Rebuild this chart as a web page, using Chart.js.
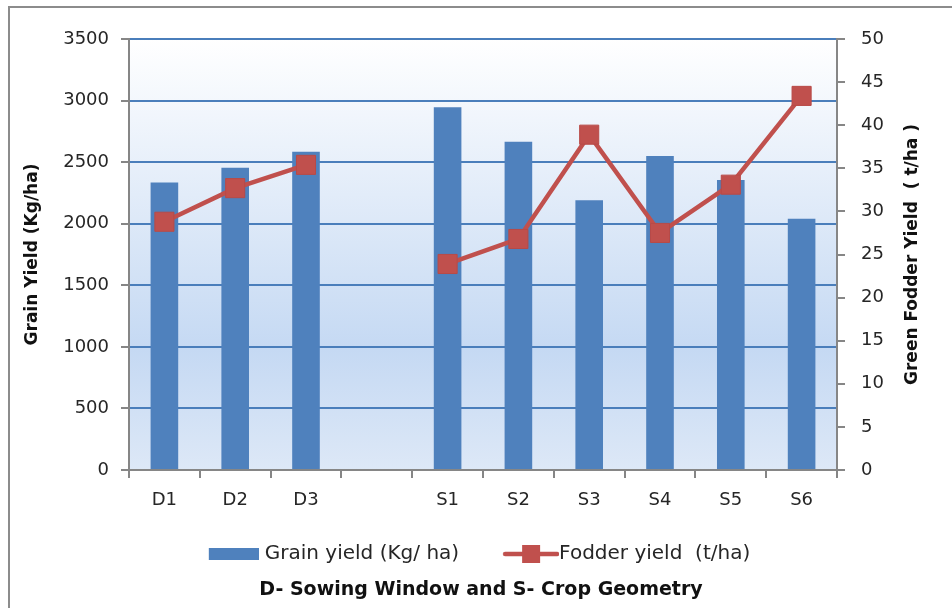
<!DOCTYPE html>
<html lang="en">
<head>
    <meta charset="UTF-8"/>
    <title>Grain and fodder yield</title>
    <script src="https://cdn.jsdelivr.net/npm/chart.js@4.4.1/dist/chart.umd.min.js"></script>
    <style>
        html, body { margin: 0; padding: 0; background: #fff; overflow: hidden; }
        #wrap { position: relative; width: 952px; height: 608px; }
        #frame {
            position: absolute; left: 8px; top: 6px; width: 1000px; height: 700px;
            border-left: 2px solid #8c8c8c; border-top: 2px solid #8c8c8c;
        }
        #yieldChart { position: absolute; left: 0; top: 0; }
    </style>
</head>
<body>
<div id="wrap">
    <div id="frame"></div>
    <canvas id="yieldChart" width="952" height="608"></canvas>
</div>
<script>
    // categories (empty slot separates D and S groups)
    const categories = ['D1', 'D2', 'D3', '', 'S1', 'S2', 'S3', 'S4', 'S5', 'S6'];
    // grain yield (Kg/ha), left axis
    const grainYield = [2335, 2455, 2585, null, 2945, 2665, 2190, 2550, 2355, 2040];
    // green fodder yield (t/ha), right axis
    const fodderYield = [28.8, 32.7, 35.4, null, 23.9, 26.8, 38.9, 27.5, 33.1, 43.4];

    const grainLabel = 'Grain yield (Kg/ ha)';
    const fodderLabel = 'Fodder yield  (t/ha)';
    const leftTitle = 'Grain Yield (Kg/ha)';
    const rightTitle = 'Green Fodder Yield  ( t/ha )';
    const xTitle = 'D- Sowing Window and S- Crop Geometry';

    const BLUE = '#4f81bd';
    const RED = '#c0504d';
    const GRID = '#4a7ebb';
    const AXIS = '#868686';
    const FONT = "'DejaVu Sans', sans-serif";

    // legend symbols (small canvases, symbol pushed to the right of the box)
    function makeSymbol(w, h, draw) {
        const c = document.createElement('canvas');
        c.width = w;
        c.height = h;
        draw(c.getContext('2d'));
        return c;
    }
    const barSymbol = makeSymbol(85, 12, (g) => {
        g.fillStyle = BLUE;
        g.fillRect(35, 0, 50, 12);
    });
    const lineSymbol = makeSymbol(97, 20, (g) => {
        g.strokeStyle = RED;
        g.lineWidth = 4.5;
        g.lineCap = 'round';
        g.beginPath();
        g.moveTo(43, 10);
        g.lineTo(95, 10);
        g.stroke();
        g.fillStyle = RED;
        g.fillRect(60, 1, 18, 18);
    });

    // plot area gradient
    const plotBackground = {
        id: 'plotBackground',
        beforeDraw(chart) {
            const {ctx, chartArea: a} = chart;
            const grad = ctx.createLinearGradient(0, a.top, 0, a.bottom);
            grad.addColorStop(0, '#ffffff');
            grad.addColorStop(0.72, '#c5d9f3');
            grad.addColorStop(1, '#dde8f7');
            ctx.save();
            ctx.fillStyle = grad;
            ctx.fillRect(a.left, a.top, a.right - a.left, a.bottom - a.top);
            ctx.restore();
        }
    };

    // right axis title (bottom to top) and x axis title under the legend
    const extraTitles = {
        id: 'extraTitles',
        afterDraw(chart) {
            const {ctx, chartArea: a} = chart;
            ctx.save();
            ctx.fillStyle = '#111';
            ctx.textAlign = 'center';
            ctx.textBaseline = 'middle';
            ctx.font = 'bold 19px ' + FONT;
            ctx.fillText(xTitle, 481, 590);
            ctx.translate(913, (a.top + a.bottom) / 2);
            ctx.rotate(-Math.PI / 2);
            ctx.font = 'bold 17px ' + FONT;
            ctx.fillText(rightTitle, 0, 0);
            ctx.restore();
        }
    };

    const plainTick = (v) => String(v);

    const ctx = document.getElementById('yieldChart').getContext('2d');
    const yieldChart = new Chart(ctx, {
        type: 'bar',
        data: {
            labels: categories,
            datasets: [{
                type: 'bar',
                label: grainLabel,
                data: grainYield,
                backgroundColor: BLUE,
                borderWidth: 0,
                barPercentage: 0.39,
                categoryPercentage: 1,
                yAxisID: 'y',
                order: 2
            }, {
                type: 'line',
                label: fodderLabel,
                data: fodderYield,
                borderColor: RED,
                backgroundColor: RED,
                borderWidth: 4.5,
                pointStyle: 'rect',
                pointRadius: 13.5,
                pointBorderWidth: 1,
                pointBorderColor: '#b84a47',
                pointBackgroundColor: RED,
                spanGaps: false,
                tension: 0,
                yAxisID: 'y1',
                order: 1
            }]
        },
        options: {
            responsive: false,
            animation: false,
            devicePixelRatio: 1,
            layout: {padding: {left: 0, right: 24, top: 39, bottom: 34}},
            plugins: {
                tooltip: {enabled: false},
                title: {display: false},
                legend: {
                    position: 'bottom',
                    labels: {
                        usePointStyle: true,
                        pointStyleWidth: 77,
                        padding: 13,
                        color: '#262626',
                        font: {family: FONT, size: 20},
                        generateLabels: (chart) => chart.data.datasets.map((ds, i) => ({
                            text: ds.label,
                            datasetIndex: i,
                            pointStyle: i === 0 ? barSymbol : lineSymbol,
                            fillStyle: ds.backgroundColor,
                            strokeStyle: ds.backgroundColor,
                            lineWidth: 0,
                            hidden: false,
                            fontColor: '#262626'
                        }))
                    }
                }
            },
            scales: {
                x: {
                    offset: true,
                    afterFit: (scale) => { scale.height = 61; },
                    grid: {
                        display: true,
                        offset: true,
                        drawOnChartArea: false,
                        tickLength: 8,
                        tickColor: AXIS,
                        lineWidth: 2
                    },
                    border: {color: AXIS, width: 2},
                    ticks: {
                        color: '#262626',
                        padding: 12,
                        font: {family: FONT, size: 18}
                    }
                },
                y: {
                    position: 'left',
                    min: 0,
                    max: 3500,
                    afterFit: (scale) => { scale.width = 129; },
                    grid: {
                        color: (c) => c.tick && c.tick.value === 0 ? AXIS : GRID,
                        lineWidth: 2,
                        tickLength: 8,
                        tickColor: AXIS
                    },
                    border: {color: AXIS, width: 2},
                    ticks: {
                        stepSize: 500,
                        callback: plainTick,
                        color: '#262626',
                        padding: 12,
                        font: {family: FONT, size: 18}
                    },
                    title: {
                        display: true,
                        text: leftTitle,
                        color: '#111',
                        font: {family: FONT, size: 17, weight: 'bold'},
                        padding: {top: 22, bottom: 0}
                    }
                },
                y1: {
                    position: 'right',
                    min: 0,
                    max: 50,
                    afterFit: (scale) => { scale.width = 91; },
                    grid: {
                        drawOnChartArea: false,
                        lineWidth: 2,
                        tickLength: 8,
                        tickColor: AXIS
                    },
                    border: {color: AXIS, width: 2},
                    ticks: {
                        stepSize: 5,
                        callback: plainTick,
                        color: '#262626',
                        padding: 16,
                        font: {family: FONT, size: 18}
                    }
                }
            }
        },
        plugins: [plotBackground, extraTitles]
    });
</script>
</body>
</html>
